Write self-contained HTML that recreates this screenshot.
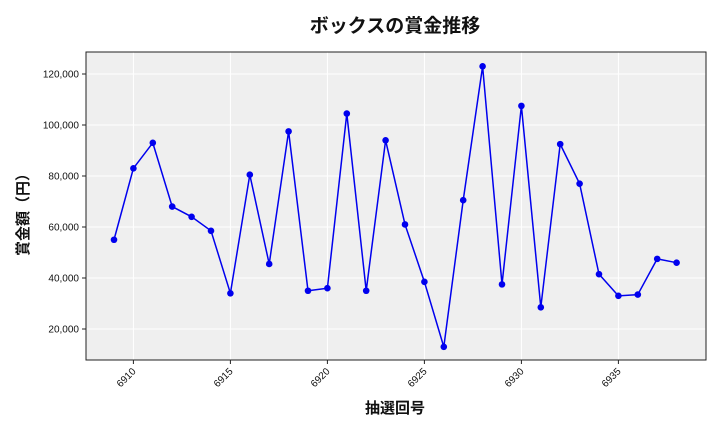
<!DOCTYPE html>
<html><head><meta charset="utf-8"><style>
body{margin:0;background:#fff;width:720px;height:432px;overflow:hidden}
svg text{font-family:"Liberation Sans","Noto Sans CJK JP",sans-serif}
</style></head><body>
<svg id="s" width="720" height="432" xmlns="http://www.w3.org/2000/svg">
<rect x="86" y="52" width="620" height="308" fill="#efefef"/>
<g id="g"></g>
<rect x="86" y="52" width="620" height="308" fill="none" stroke="#222" stroke-width="1"/>
<text x="395" y="32" text-anchor="middle" font-size="19" font-weight="bold" fill="#111">ボックスの賞金推移</text>
<text x="395" y="413" text-anchor="middle" font-size="15" font-weight="bold" fill="#111">抽選回号</text>
<text transform="translate(28,211) rotate(-90)" text-anchor="middle" font-size="15" font-weight="bold" fill="#111">賞金額（円）</text>
</svg>
<script>
var d=[55000,83000,93000,68000,64000,58500,34000,80500,45500,97500,35000,36000,104500,35000,94000,61000,38500,13000,70500,123000,37500,107500,28500,92500,77000,41500,33000,33500,47500,46000];
function X(i){return 114+(i)*19.4;}function Y(v){return 74+(120000-v)*51/20000;}
var h='';
for(var v=20000;v<=120000;v+=20000){var y=Y(v);h+='<line x1="86" x2="706" y1="'+y+'" y2="'+y+'" stroke="#fff"/><line x1="82" x2="86" y1="'+y+'" y2="'+y+'" stroke="#222"/><text x="79" y="'+(y+3.5)+'" text-anchor="end" font-size="10" fill="#111">'+v.toLocaleString('en-US')+'</text>';}
for(var t=6910;t<=6935;t+=5){var x=X(t-6909);h+='<line y1="52" y2="360" x1="'+x+'" x2="'+x+'" stroke="#fff"/><line y1="360" y2="364" x1="'+x+'" x2="'+x+'" stroke="#222"/><text transform="translate('+(x+3)+',372) rotate(-45)" text-anchor="end" font-size="10" fill="#111">'+t+'</text>';}
var p=d.map(function(v,i){return X(i)+','+Y(v)}).join(' ');
h+='<polyline points="'+p+'" fill="none" stroke="#0000ee" stroke-width="1.5"/>';
d.forEach(function(v,i){h+='<circle cx="'+X(i)+'" cy="'+Y(v)+'" r="3.3" fill="#0000ee"/>';});
document.getElementById('g').innerHTML=h;
</script>
</body></html>
